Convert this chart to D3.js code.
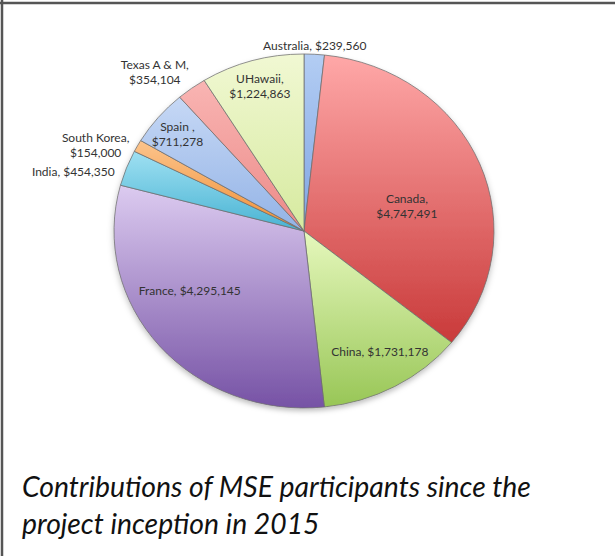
<!DOCTYPE html>
<html>
<head>
<meta charset="utf-8">
<script src="https://cdn.jsdelivr.net/npm/d3@7"></script>
<style>
  body { margin: 0; background: #fff; }
  svg { display: block; }
</style>
</head>
<body>
<script>
// data
const names = ["Australia", "Canada", "China", "France", "India", "South Korea", "Spain ", "Texas A & M", "UHawaii"];
const values = [239560, 4747491, 1731178, 4295145, 454350, 154000, 711278, 354104, 1224863];
const twoLine = [false, true, false, false, false, true, true, true, true];
const captionLines = ["Contributions of MSE participants since the", "project inception in 2015"];

// styles
const topColors = ["#b3cdf3", "#ffa8a8", "#e6f8bd", "#dccbf0", "#9fe0f2", "#fcc48c", "#c6d8f5", "#f9b5b3", "#f1f8d3"];
const botColors = ["#7fa5e3", "#c93a3a", "#98c656", "#7652a5", "#48b3d3", "#f08f35", "#93b3e6", "#ec8a88", "#d6ea9f"];
// [angle nudge in degrees, radius factor] for each label
const labelPlace = [[0, 1.05], [7.7, 0.56], [-1.8, 0.79], [11.2, 0.69], [-5.4, 1.26], [-4.8, 1.2], [-0.7, 0.86], [-5, 1.19], [0, 0.85]];

const width = 615, height = 556;
const cx = 304, cy = 231, rx = 190, ry = 177;

const svg = d3.select("body").append("svg")
  .attr("width", width)
  .attr("height", height);

// frame (top and left edges only)
svg.append("line").attr("x1", 0).attr("x2", width).attr("y1", 3).attr("y2", 3)
  .attr("stroke", "#555").attr("stroke-width", 2.5);
svg.append("line").attr("x1", 2).attr("x2", 2).attr("y1", 0).attr("y2", height)
  .attr("stroke", "#555").attr("stroke-width", 2.5);

const defs = svg.append("defs");
names.forEach((n, i) => {
  const g = defs.append("linearGradient").attr("id", "grad" + i)
    .attr("x1", 0).attr("y1", 0).attr("x2", 0).attr("y2", 1);
  g.append("stop").attr("offset", "0%").attr("stop-color", topColors[i]);
  g.append("stop").attr("offset", "100%").attr("stop-color", botColors[i]);
});
const shadow = defs.append("filter").attr("id", "shadow")
  .attr("x", "-10%").attr("y", "-10%").attr("width", "120%").attr("height", "125%");
shadow.append("feDropShadow").attr("dx", 0).attr("dy", 3).attr("stdDeviation", 3)
  .attr("flood-color", "#000").attr("flood-opacity", 0.25);

const pie = d3.pie().sort(null).value(d => d);
const arcs = pie(values);
const arc = d3.arc().innerRadius(0).outerRadius(rx);

const g = svg.append("g")
  .attr("transform", `translate(${cx},${cy}) scale(1,${ry / rx})`)
  .attr("filter", "url(#shadow)");

g.selectAll("path")
  .data(arcs)
  .enter().append("path")
  .attr("d", arc)
  .attr("fill", (d, i) => `url(#grad${i})`)
  .attr("stroke", "#6e6e6e")
  .attr("stroke-opacity", 0.75)
  .attr("stroke-width", 1)
  .attr("vector-effect", "non-scaling-stroke")
  .attr("stroke-linejoin", "round");

// labels
const fmt = d3.format("$,");
const labels = svg.append("g")
  .attr("font-family", "Lato, 'Open Sans', sans-serif")
  .attr("font-size", 12)
  .attr("fill", "#333");

arcs.forEach((d, i) => {
  const mid = (d.startAngle + d.endAngle) / 2 + labelPlace[i][0] * Math.PI / 180;
  const r = labelPlace[i][1];
  const x = cx + r * rx * Math.sin(mid);
  const y = cy - r * ry * Math.cos(mid);
  const lines = twoLine[i] ? [names[i] + ",", fmt(values[i])] : [names[i] + ", " + fmt(values[i])];
  const t = labels.append("text")
    .attr("text-anchor", "middle")
    .attr("x", x)
    .attr("y", y);
  lines.forEach((s, k) => {
    t.append("tspan")
      .attr("x", x)
      .attr("dy", k === 0 ? (0.35 - (lines.length - 1) * 0.625) + "em" : "1.25em")
      .text(s);
  });
});

// caption
const cap = svg.append("g")
  .attr("font-family", "Lato, 'Open Sans', sans-serif")
  .attr("font-style", "italic")
  .attr("fill", "#111");
const c1 = cap.append("text").attr("x", 22).attr("y", 497).attr("font-size", 26).text(captionLines[0]);
const fs = 26 * 509 / c1.node().getComputedTextLength();
c1.attr("font-size", fs);
cap.append("text").attr("x", 22).attr("y", 534).attr("font-size", fs).text(captionLines[1]);
</script>
</body>
</html>
